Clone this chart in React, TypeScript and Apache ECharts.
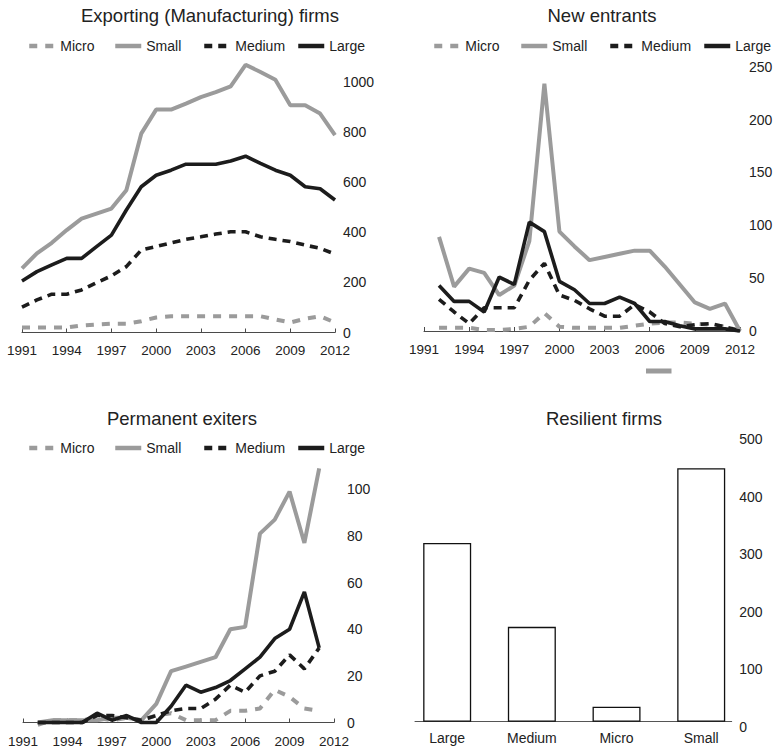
import React, { useEffect, useRef } from 'react';
import * as echarts from 'echarts';

// Years on the horizontal axis of the three line panels
const years = [
  '1991', '1992', '1993', '1994', '1995', '1996', '1997', '1998', '1999', '2000', '2001',
  '2002', '2003', '2004', '2005', '2006', '2007', '2008', '2009', '2010', '2011', '2012',
];

const sizeClasses = ['Micro', 'Small', 'Medium', 'Large'];

// Exporting (Manufacturing) firms
const exportMicro = [20, 20, 20, 20, 28, 32, 35, 35, 45, 60, 65, 65, 65, 65, 65, 65, 65, 52, 40, 55, 65, 40];
const exportSmall = [256, 316, 358, 409, 455, 475, 495, 568, 794, 890, 890, 914, 940, 960, 983, 1069, 1040, 1009, 907, 907, 874, 788];
const exportMedium = [101, 130, 153, 153, 170, 199, 226, 263, 329, 343, 358, 372, 382, 393, 402, 402, 382, 372, 363, 349, 336, 313];
const exportLarge = [206, 243, 270, 296, 296, 343, 389, 489, 582, 628, 648, 672, 672, 672, 685, 704, 675, 648, 628, 582, 574, 529];

// New entrants
const entrantMicro = [null, 3, 3, 3, 1, 1, 2, 4, 17, 4, 3, 3, 3, 3, 5, 7, 8, 8, 7, 6, 4, 0];
const entrantSmall = [null, 89, 42, 59, 55, 34, 43, 85, 234, 94, 80, 67, 70, 73, 76, 76, 61, 44, 27, 21, 26, 0];
const entrantMedium = [null, 30, 18, 7, 22, 22, 22, 48, 64, 34, 29, 21, 14, 14, 25, 18, 7, 4, 6, 7, 4, 0];
const entrantLarge = [null, 43, 28, 28, 18, 51, 44, 103, 94, 47, 39, 26, 26, 32, 26, 9, 9, 5, 2, 2, 2, 0];

// Permanent exiters
const exiterMicro = [null, -1, 1, 1, 1, 2, 1, 2, 1, 3, 4, 1, 1, 1, 5, 5, 6, 14, 11, 6, 5, null];
const exiterSmall = [null, 0, 1, 1, 1, 1, 2, 2, 1, 8, 22, 24, 26, 28, 40, 41, 81, 87, 99, 77, 109, null];
const exiterMedium = [null, 0, 0, 0, 0, 3, 3, 2, 1, 3, 5, 6, 6, 10, 16, 13, 20, 22, 29, 23, 32, null];
const exiterLarge = [null, 0, 0, 0, 0, 4, 1, 3, 0, 0, 7, 16, 13, 15, 18, 23, 28, 36, 40, 56, 32, null];

// Resilient firms
const resilientCats = ['Large', 'Medium', 'Micro', 'Small'];
const resilientValues = [311, 165, 26, 441];

const GRAY = '#9b9b9b';
const BLACK = '#1c1c1c';
const AXIS = '#4a4a4a';
const TEXT = '#222222';
const FONT = '"Liberation Sans", Arial, Helvetica, sans-serif';

const isGray = (name: string) => name === 'Micro' || name === 'Small';
const dashOf = (name: string): any => (name === 'Micro' ? [8, 8] : name === 'Medium' ? [8, 6] : 'solid');

function lineSeries(name: string, data: (number | null)[], idx: number) {
  const gray = isGray(name);
  return {
    type: 'line',
    name,
    data,
    xAxisIndex: idx,
    yAxisIndex: idx,
    symbol: 'none',
    showSymbol: false,
    clip: false,
    connectNulls: false,
    lineStyle: { color: gray ? GRAY : BLACK, width: gray ? 4 : 3.6, type: dashOf(name) },
    itemStyle: { color: gray ? GRAY : BLACK },
    emphasis: { disabled: true },
  };
}

function yearAxis(gridIndex: number, offset: number, margin: number) {
  return {
    type: 'category',
    gridIndex,
    data: years,
    boundaryGap: false,
    offset,
    axisLine: { show: true, lineStyle: { color: AXIS, width: 1 } },
    axisTick: { show: true, inside: true, length: 4, interval: 2, lineStyle: { color: AXIS, width: 1 } },
    axisLabel: { interval: 2, margin, fontSize: 13.5, color: TEXT, fontFamily: FONT },
    splitLine: { show: false },
  };
}

const plainNumber = (v: number) => String(v);

function valueAxis(gridIndex: number, max: number, interval: number, margin: number, showMax: boolean) {
  return {
    type: 'value',
    gridIndex,
    position: 'right',
    min: 0,
    max,
    interval,
    axisLine: { show: false },
    axisTick: { show: false },
    splitLine: { show: false },
    axisLabel: {
      margin,
      fontSize: 14,
      color: TEXT,
      fontFamily: FONT,
      showMaxLabel: showMax,
      showMinLabel: true,
      formatter: plainNumber,
    },
  };
}

function legendRow(top: number, lefts: number[]) {
  return sizeClasses.map((n, i) => ({
    data: [n],
    left: lefts[i],
    top,
    padding: 0,
    itemWidth: 26,
    itemHeight: 14,
    selectedMode: false,
    itemStyle: { opacity: 0, borderWidth: 0 },
    lineStyle: { width: 4.5, color: isGray(n) ? GRAY : BLACK, type: dashOf(n) },
    textStyle: { fontSize: 14, color: TEXT, fontFamily: FONT },
  }));
}

function panelTitle(text: string, x: number, y: number) {
  return {
    type: 'text',
    x,
    y,
    silent: true,
    style: {
      text,
      fill: TEXT,
      fontSize: 18.5,
      fontFamily: FONT,
      align: 'center',
      verticalAlign: 'middle',
    },
  };
}

export default function App() {
  const ref = useRef<HTMLDivElement>(null);

  useEffect(() => {
    if (!ref.current) return;
    const chart = echarts.init(ref.current, null, { renderer: 'svg' });

    const option: any = {
      animation: false,
      backgroundColor: '#ffffff',
      textStyle: { fontFamily: FONT },
      graphic: [
        panelTitle('Exporting (Manufacturing) firms', 210, 15),
        panelTitle('New entrants', 602, 15),
        panelTitle('Permanent exiters', 182, 418),
        panelTitle('Resilient firms', 604, 418),
        {
          type: 'rect',
          silent: true,
          shape: { x: 646, y: 368.5, width: 25.5, height: 5 },
          style: { fill: GRAY },
        },
      ],
      legend: [
        ...legendRow(39, [27, 113, 202, 296]),
        ...legendRow(39, [432, 519, 608, 702]),
        ...legendRow(441, [27, 113, 202, 296]),
      ],
      grid: [
        { left: 22, right: 442, top: 57, bottom: 421.5 },
        { left: 424, right: 37, top: 66.7, bottom: 423 },
        { left: 23, right: 443, top: 466, bottom: 31.5 },
        { left: 415, right: 45.3, top: 434.3, bottom: 32.3 },
      ],
      xAxis: [
        yearAxis(0, 4, 7),
        yearAxis(1, 5, 6.5),
        yearAxis(2, 4.5, 7.5),
        {
          type: 'value',
          gridIndex: 3,
          min: 0.62,
          max: 4.36,
          axisLine: { show: true, lineStyle: { color: '#555', width: 1 } },
          axisTick: { show: false },
          splitLine: { show: false },
          axisLabel: {
            customValues: [1, 2, 3, 4],
            margin: 9,
            fontSize: 14,
            color: TEXT,
            fontFamily: FONT,
            formatter: (v: number) => {
              const i = Math.round(v);
              return Math.abs(v - i) < 1e-6 && i >= 1 && i <= resilientCats.length ? resilientCats[i - 1] : '';
            },
          },
        },
      ],
      yAxis: [
        valueAxis(0, 1100, 200, 8, false),
        valueAxis(1, 250, 50, 9, true),
        valueAxis(2, 110, 20, 13, false),
        {
          ...valueAxis(3, 500, 100, 7.5, true),
          axisLabel: {
            margin: 7.5,
            fontSize: 14,
            color: TEXT,
            fontFamily: FONT,
            verticalAlign: 'top',
            lineHeight: 10,
            formatter: plainNumber,
          },
        },
      ],
      series: [
        lineSeries('Micro', exportMicro, 0),
        lineSeries('Small', exportSmall, 0),
        lineSeries('Medium', exportMedium, 0),
        lineSeries('Large', exportLarge, 0),
        lineSeries('Micro', entrantMicro, 1),
        lineSeries('Small', entrantSmall, 1),
        lineSeries('Medium', entrantMedium, 1),
        lineSeries('Large', entrantLarge, 1),
        lineSeries('Micro', exiterMicro, 2),
        lineSeries('Small', exiterSmall, 2),
        lineSeries('Medium', exiterMedium, 2),
        lineSeries('Large', exiterLarge, 2),
        {
          type: 'bar',
          name: 'Resilient firms',
          xAxisIndex: 3,
          yAxisIndex: 3,
          barWidth: 48,
          data: resilientCats.map((c, i) => [i + 1, resilientValues[i]]),
          itemStyle: { color: '#ffffff', borderColor: '#111111', borderWidth: 1.3 },
          emphasis: { disabled: true },
        },
      ],
    };

    chart.setOption(option);
    return () => chart.dispose();
  }, []);

  return (
    <div
      ref={ref}
      style={{ position: 'absolute', left: 0, top: 0, width: 777, height: 754, background: '#fff' }}
    />
  );
}
